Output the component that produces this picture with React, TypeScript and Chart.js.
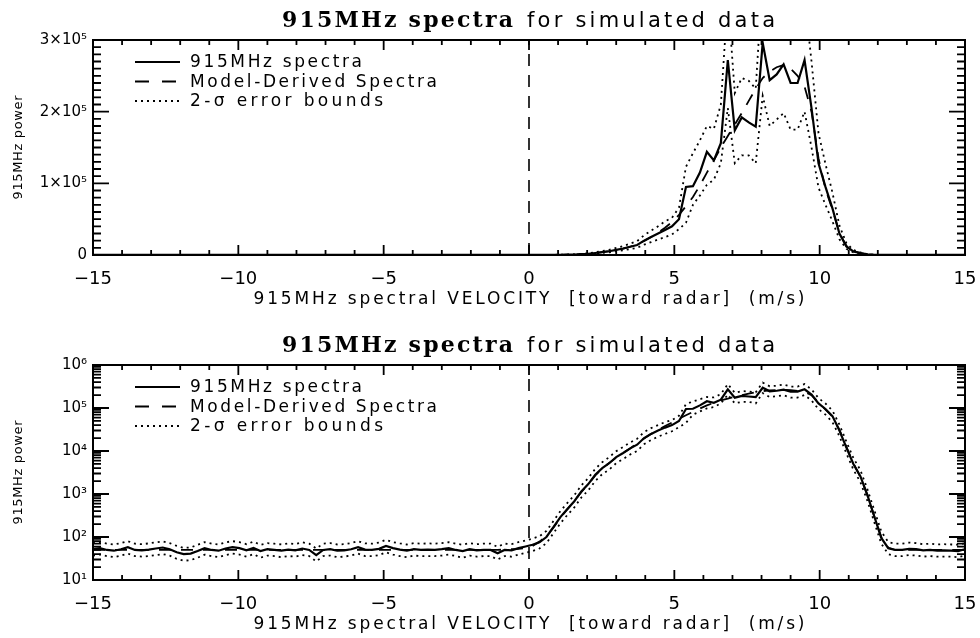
import { useEffect, useRef } from "react";
import { Chart, registerables } from "chart.js";

Chart.register(...registerables);

// Doppler velocity bins (m/s), 0.24 m/s spacing
const VELOCITY = [
  -15.0, -14.76, -14.52, -14.28, -14.04, -13.8, -13.56, -13.32, -13.08,
  -12.84, -12.6, -12.36, -12.12, -11.88, -11.64, -11.4, -11.16, -10.92,
  -10.68, -10.44, -10.2, -9.96, -9.72, -9.48, -9.24, -9.0, -8.76,
  -8.52, -8.28, -8.04, -7.8, -7.56, -7.32, -7.08, -6.84, -6.6,
  -6.36, -6.12, -5.88, -5.64, -5.4, -5.16, -4.92, -4.68, -4.44,
  -4.2, -3.96, -3.72, -3.48, -3.24, -3.0, -2.76, -2.52, -2.28,
  -2.04, -1.8, -1.56, -1.32, -1.08, -0.84, -0.6, -0.36, -0.12,
  0.12, 0.36, 0.6, 0.84, 1.08, 1.32, 1.56, 1.8, 2.04,
  2.28, 2.52, 2.76, 3.0, 3.24, 3.48, 3.72, 3.96, 4.2,
  4.44, 4.68, 4.92, 5.16, 5.4, 5.64, 5.88, 6.12, 6.36,
  6.6, 6.84, 7.08, 7.32, 7.56, 7.8, 8.04, 8.28, 8.52,
  8.76, 9.0, 9.24, 9.48, 9.72, 9.96, 10.2, 10.44, 10.68,
  10.92, 11.16, 11.4, 11.64, 11.88, 12.12, 12.36, 12.6, 12.84,
  13.08, 13.32, 13.56, 13.8, 14.04, 14.28, 14.52, 14.76, 15.0,
];

// 915MHz spectra (observed)
const SPECTRA = [
  52, 55, 50, 48, 52, 58, 50, 49, 51,
  54, 57, 52, 44, 40, 41, 47, 55, 50,
  48, 54, 58, 55, 49, 56, 47, 52, 50,
  48, 51, 49, 54, 50, 38, 50, 52, 48,
  49, 52, 58, 51, 50, 53, 62, 55, 51,
  48, 52, 50, 51, 50, 52, 55, 50, 47,
  52, 49, 50, 50, 42, 50, 49, 55, 60,
  66, 75, 100, 170, 290, 450, 680, 1150, 1700,
  2800, 4000, 5200, 7200, 9000, 11500, 14000, 20000, 25000,
  30000, 35000, 40000, 50000, 95000, 96000, 115000, 144000, 132000,
  156000, 272000, 174000, 192000, 185000, 179000, 296000, 244000, 252000,
  266000, 240000, 240000, 272000, 205000, 128000, 95000, 65000, 30000,
  12000, 5000, 2600, 950, 300, 95, 55, 50, 50,
  53, 52, 49, 50, 48, 49, 48, 47, 52,
];

// Model-derived spectra
const MODEL = [
  50, 50, 50, 50, 50, 50, 50, 50, 50,
  50, 50, 50, 50, 50, 50, 50, 50, 50,
  50, 50, 50, 50, 50, 50, 50, 50, 50,
  50, 50, 50, 50, 50, 50, 50, 50, 50,
  50, 50, 50, 50, 50, 50, 50, 50, 50,
  50, 50, 50, 50, 50, 50, 50, 50, 50,
  50, 50, 50, 50, 50, 51, 52, 53, 55,
  62, 78, 105, 165, 280, 440, 690, 1100, 1700,
  2700, 3900, 5300, 7000, 9000, 11500, 15000, 19500, 25000,
  31000, 38000, 46000, 56000, 68000, 81000, 97000, 115000, 132000,
  150000, 166000, 182000, 198000, 215000, 232000, 247000, 256000, 262000,
  265000, 260000, 250000, 235000, 200000, 135000, 92000, 63000, 31000,
  12500, 5200, 2500, 950, 300, 100, 56, 50, 50,
  50, 50, 50, 50, 50, 50, 50, 50, 50,
];

// Upper 2-sigma error bound
const UPPER_2SIGMA = [
  72, 76, 70, 67, 72, 80, 70, 68, 71,
  75, 79, 72, 62, 56, 57, 66, 76, 70,
  67, 75, 80, 76, 68, 78, 66, 72, 70,
  67, 71, 68, 75, 70, 54, 70, 72, 67,
  68, 72, 80, 71, 70, 74, 86, 76, 71,
  67, 72, 70, 71, 70, 72, 76, 70, 66,
  72, 68, 70, 70, 59, 70, 68, 76, 83,
  92, 104, 138, 235, 400, 620, 940, 1580, 2350,
  3850, 5500, 7200, 9900, 12400, 15800, 19300, 27500, 34000,
  40000, 47000, 52000, 66000, 123000, 142000, 160000, 180000, 176000,
  210000, 360000, 226000, 247000, 243000, 232000, 390000, 320000, 330000,
  350000, 315000, 315000, 360000, 270000, 170000, 127000, 87000, 41000,
  16500, 6900, 3600, 1300, 420, 135, 76, 70, 70,
  74, 72, 68, 70, 67, 68, 67, 66, 72,
];

// Lower 2-sigma error bound
const LOWER_2SIGMA = [
  37, 39, 36, 34, 37, 41, 36, 35, 36,
  38, 40, 37, 31, 28, 29, 33, 39, 36,
  34, 38, 41, 39, 35, 40, 33, 37, 36,
  34, 36, 35, 38, 36, 27, 36, 37, 34,
  35, 37, 41, 36, 36, 38, 44, 39, 36,
  34, 37, 36, 36, 36, 37, 39, 36, 33,
  37, 35, 36, 36, 30, 36, 35, 39, 43,
  47, 54, 72, 122, 208, 325, 490, 830, 1220,
  2000, 2900, 3700, 5200, 6500, 8300, 10000, 14400, 18000,
  21500, 25000, 28800, 36000, 45000, 70000, 83000, 98000, 105000,
  128000, 205000, 128000, 139000, 139000, 128000, 222000, 180000, 189000,
  198000, 175000, 175000, 200000, 150000, 94000, 70000, 47000, 22000,
  8800, 3700, 1900, 700, 220, 70, 40, 36, 36,
  38, 37, 35, 36, 35, 35, 35, 34, 37,
];

const X_TICKS = [-15, -10, -5, 0, 5, 10, 15];
const X_TICK_LABELS = ["\u221215", "\u221210", "\u22125", "0", "5", "10", "15"];
const LIN_TICKS = [0, 100000, 200000, 300000];
const LIN_TICK_LABELS = ["0", "1\u00d710\u2075", "2\u00d710\u2075", "3\u00d710\u2075"];
const LOG_TICKS = [1e1, 1e2, 1e3, 1e4, 1e5, 1e6];
const LOG_TICK_LABELS = ["10\u00b9", "10\u00b2", "10\u00b3", "10\u2074", "10\u2075", "10\u2076"];

const LEGEND_LABELS = ["915MHz spectra", "Model-Derived Spectra", "2-\u03c3 error bounds"];
const TITLE_BOLD = "915MHz spectra";
const TITLE_REST = "for simulated data";
const X_TITLE = "915MHz spectral VELOCITY  [toward radar]  (m/s)";
const Y_TITLE = "915MHz power";

const SANS = '"DejaVu Sans", sans-serif';
const SERIF = '"DejaVu Serif", serif';

function drawFitted(ctx: CanvasRenderingContext2D, text: string, left: number, baseline: number, width: number, font: string) {
  ctx.font = font;
  (ctx as any).letterSpacing = "0px";
  const w = ctx.measureText(text).width;
  const sp = (width - w) / Math.max(1, text.length - 1);
  (ctx as any).letterSpacing = sp + "px";
  ctx.textAlign = "left";
  ctx.textBaseline = "alphabetic";
  ctx.fillText(text, left, baseline);
  (ctx as any).letterSpacing = "0px";
}

const idlPlugin = {
  id: "idlDecor",
  afterDraw(chart: any) {
    const ctx: CanvasRenderingContext2D = chart.ctx;
    const a = chart.chartArea;
    const xs = chart.scales.x;
    const ys = chart.scales.y;
    const isLog = ys.type === "logarithmic";
    ctx.save();
    ctx.fillStyle = "#000";
    ctx.strokeStyle = "#000";
    ctx.setLineDash([]);

    // inward tick marks on all four sides (IDL style)
    ctx.lineWidth = 1.8;
    for (let v = -15; v <= 15; v += 1) {
      const px = xs.getPixelForValue(v);
      const len = X_TICKS.indexOf(v) >= 0 ? 10 : 5;
      ctx.beginPath();
      ctx.moveTo(px, a.bottom);
      ctx.lineTo(px, a.bottom - len);
      ctx.moveTo(px, a.top);
      ctx.lineTo(px, a.top + len);
      ctx.stroke();
    }
    const vals: number[] = [];
    const major: boolean[] = [];
    if (isLog) {
      for (let e = 1; e <= 5; e++) {
        for (let m = 1; m <= 9; m++) {
          vals.push(m * Math.pow(10, e));
          major.push(m === 1);
        }
      }
      vals.push(1e6);
      major.push(true);
    } else {
      for (let k = 0; k <= 30; k++) {
        vals.push(k * 10000);
        major.push(k % 10 === 0);
      }
    }
    for (let i = 0; i < vals.length; i++) {
      const py = ys.getPixelForValue(vals[i]);
      const len = major[i] ? 16 : 8;
      ctx.beginPath();
      ctx.moveTo(a.left, py);
      ctx.lineTo(a.left + len, py);
      ctx.moveTo(a.right, py);
      ctx.lineTo(a.right - len, py);
      ctx.stroke();
    }

    ctx.lineWidth = 2;
    ctx.strokeRect(a.left, a.top, a.right - a.left, a.bottom - a.top);

    // legend (line samples + labels)
    const lx0 = a.left + 42;
    const lx1 = a.left + 87;
    const tx = a.left + 97;
    const rows = [27, 46.5, 66];
    const dashes = [[], [14, 13], [2, 4]];
    const widths = [172, 247, 193];
    for (let i = 0; i < 3; i++) {
      const by = a.top + rows[i];
      ctx.beginPath();
      ctx.lineWidth = i === 0 ? 2.2 : 1.8;
      ctx.setLineDash(dashes[i]);
      ctx.moveTo(lx0, by - 5);
      ctx.lineTo(lx1, by - 5);
      ctx.stroke();
      ctx.setLineDash([]);
      drawFitted(ctx, LEGEND_LABELS[i], tx, by, widths[i], `17px ${SANS}`);
    }

    // title
    drawFitted(ctx, TITLE_BOLD, 282, a.top - 13, 231, `bold 22px ${SERIF}`);
    drawFitted(ctx, TITLE_REST, 527, a.top - 13, 248, `21px ${SANS}`);

    // x axis title
    const cx = (a.left + a.right) / 2;
    drawFitted(ctx, X_TITLE, cx - 275.5, a.bottom + 49, 551, `17px ${SANS}`);

    // y axis title
    ctx.save();
    ctx.translate(22, (a.top + a.bottom) / 2);
    ctx.rotate(-Math.PI / 2);
    drawFitted(ctx, Y_TITLE, -52, 0, 104, `13px ${SANS}`);
    ctx.restore();

    ctx.restore();
  },
};

function SpectraChart({ log, top }: { log: boolean; top: number }) {
  const ref = useRef<HTMLCanvasElement | null>(null);
  useEffect(() => {
    if (!ref.current) return;
    const pts = (arr: number[]) => VELOCITY.map((v, i) => ({ x: v, y: arr[i] }));
    const yMin = log ? 10 : 0;
    const yMax = log ? 1e6 : 300000;
    const yTicks = log ? LOG_TICKS : LIN_TICKS;
    const yLabels = log ? LOG_TICK_LABELS : LIN_TICK_LABELS;
    const base = { borderColor: "#000", backgroundColor: "#000", pointRadius: 0, fill: false, tension: 0 };
    const chart = new Chart(ref.current, {
      type: "line",
      data: {
        datasets: [
          { ...base, label: "zero", data: [{ x: 0, y: yMin }, { x: 0, y: yMax }], borderWidth: 1.6, borderDash: [12, 9] },
          { ...base, label: "upper", data: pts(UPPER_2SIGMA), borderWidth: 1.8, borderDash: [2, 4] },
          { ...base, label: "lower", data: pts(LOWER_2SIGMA), borderWidth: 1.8, borderDash: [2, 4] },
          { ...base, label: LEGEND_LABELS[1], data: pts(MODEL), borderWidth: 1.8, borderDash: [12, 10] },
          { ...base, label: LEGEND_LABELS[0], data: pts(SPECTRA), borderWidth: 2.2 },
        ],
      },
      options: {
        animation: false,
        responsive: false,
        devicePixelRatio: 1,
        layout: { padding: { top: 40, right: 15, bottom: 0, left: 0 } },
        plugins: {
          legend: { display: false },
          tooltip: { enabled: false },
          title: { display: false },
        },
        scales: {
          x: {
            type: "linear",
            min: -15,
            max: 15,
            afterBuildTicks: (s: any) => {
              s.ticks = X_TICKS.map((v) => ({ value: v }));
            },
            afterFit: (s: any) => {
              s.height = 58;
              s.paddingLeft = 0;
              s.paddingRight = 0;
            },
            ticks: {
              callback: (_v: any, i: number) => X_TICK_LABELS[i],
              font: { family: SANS, size: 18 },
              color: "#000",
              padding: 14,
              autoSkip: false,
              maxRotation: 0,
            },
            grid: { display: false, drawTicks: false },
            border: { display: false },
          },
          y: {
            type: log ? "logarithmic" : "linear",
            min: yMin,
            max: yMax,
            afterBuildTicks: (s: any) => {
              s.ticks = yTicks.map((v) => ({ value: v }));
            },
            afterFit: (s: any) => {
              s.width = 93;
              s.paddingTop = 0;
              s.paddingBottom = 0;
            },
            ticks: {
              callback: (_v: any, i: number) => yLabels[i],
              font: { family: SANS, size: 15 },
              color: "#000",
              padding: 6,
              autoSkip: false,
            },
            grid: { display: false, drawTicks: false },
            border: { display: false },
          },
        } as any,
      },
      plugins: [idlPlugin as any],
    });
    return () => chart.destroy();
  }, [log]);
  return (
    <canvas
      ref={ref}
      width={980}
      height={313}
      style={{ position: "absolute", left: 0, top, width: 980, height: 313 }}
    />
  );
}

export default function App() {
  return (
    <div style={{ position: "fixed", left: 0, top: 0, width: 980, height: 638, background: "#fff", overflow: "hidden" }}>
      <SpectraChart log={false} top={0} />
      <SpectraChart log={true} top={325} />
    </div>
  );
}
